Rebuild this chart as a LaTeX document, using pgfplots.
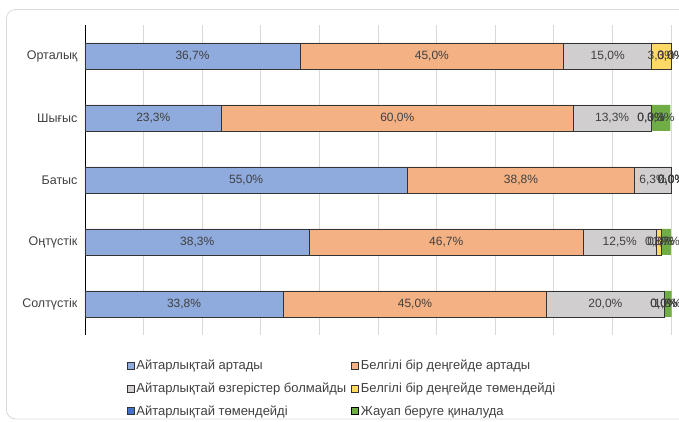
\documentclass[border=0pt]{standalone}
\usepackage{pgfplots}
\pgfplotsset{compat=1.18}
\usepackage{fontspec}
\setmainfont{Liberation Sans}
\definecolor{c1}{HTML}{8FAADC}
\definecolor{c2}{HTML}{F4B183}
\definecolor{c3}{HTML}{D0CECE}
\definecolor{c4}{HTML}{FFD966}
\definecolor{c5}{HTML}{4472C4}
\definecolor{c6}{HTML}{70AD47}
\definecolor{txt}{HTML}{404040}
\definecolor{grd}{HTML}{D9D9D9}
\begin{document}
\begin{tikzpicture}[x=1pt,y=1pt]
\useasboundingbox (0,0) rectangle (679,422);
\draw[grd, line width=0.8pt, rounded corners=9pt] (6.5,412.5) rectangle (720,3);
\begin{axis}[
  at={(85pt,87pt)}, anchor=south west,
  scale only axis, width=597.7pt, height=310pt,
  xbar stacked, bar width=26pt, clip=false,
  xmin=0, xmax=102, ymin=-0.5, ymax=4.5,
  ytick={0,...,4},
  yticklabels={Солтүстік,Оңтүстік,Батыс,Шығыс,Орталық},
  xtick={0,10,...,100}, xticklabels={},
  xmajorgrids, major grid style={grd, line width=0.75pt},
  axis lines*=left, x axis line style={draw=none},
  y axis line style={black, line width=0.75pt},
  tick style={draw=none},
  yticklabel style={font=\fontsize{12.5}{14}\selectfont, text=txt, xshift=-4pt},
  /pgf/number format/assume math mode=true,
  nodes near coords={\pgfmathprintnumber[fixed,fixed zerofill,precision=1,use comma,assume math mode=true]{\pgfplotspointmeta}\%},
  every node near coord/.append style={font=\fontsize{12}{14}\selectfont, text=txt, inner sep=0pt},
  legend columns=2,
  legend cell align=left,
  legend style={at={(axis description cs:0.0645,-0.068)}, anchor=north west, draw=none, fill=none,
    font=\fontsize{13}{15}\selectfont, text=txt, row sep=7.5pt,
    /tikz/every even column/.append style={column sep=3pt}},
  legend image code/.code={\draw[#1] (0pt,-3.5pt) rectangle (7pt,3.5pt);},
]
\addplot[fill=c1, draw=black!80, line width=0.6pt] coordinates {(33.8,0) (38.3,1) (55.0,2) (23.3,3) (36.7,4)};
\addplot[fill=c2, draw=black!80, line width=0.6pt] coordinates {(45.0,0) (46.7,1) (38.8,2) (60.0,3) (45.0,4)};
\addplot[fill=c3, draw=black!80, line width=0.6pt] coordinates {(20.0,0) (12.5,1) (6.3,2) (13.3,3) (15.0,4)};
\addplot[fill=c4, draw=black!80, line width=0.6pt] coordinates {(0.001,0) (0.8,1) (0.001,2) (0.001,3) (3.3,4)};
\addplot[fill=c5, draw=black!80, line width=0.6pt] coordinates {(0.001,0) (0.001,1) (0.001,2) (0.001,3) (0.001,4)};
\addplot[fill=c6, draw=none] coordinates {(1.3,0) (1.7,1) (0.001,2) (3.3,3) (0.001,4)};
\legend{Айтарлықтай артады,Белгілі бір деңгейде артады,Айтарлықтай өзгерістер болмайды,Белгілі бір деңгейде төмендейді,Айтарлықтай төмендейді,Жауап беруге қиналуда}
\end{axis}
\end{tikzpicture}
\end{document}
